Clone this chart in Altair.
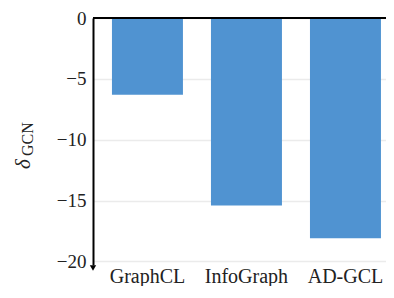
import altair as alt
import pandas as pd

methods = ["GraphCL", "InfoGraph", "AD-GCL"]
delta_gcn = [-6.3, -15.4, -18.1]
y_ticks = [0, -5, -10, -15, -20]
y_min = -20.3

df = pd.DataFrame({"method": methods, "delta": delta_gcn})

FONT = "Liberation Serif, DejaVu Serif, serif"

y_axis = alt.Axis(title=None, values=y_ticks, grid=True, gridColor="#ebebeb",
                  gridWidth=1.5, domainColor="black", domainWidth=2,
                  ticks=False, labelFont=FONT, labelFontSize=19,
                  labelColor="#222", labelPadding=7,
                  labelExpr="replace(datum.label, '-', '\u2212')")
y_scale = alt.Scale(domain=[y_min, 0], nice=False, zero=False)

base = alt.Chart(df)

bars = base.mark_bar(color="#4A90D0", opacity=0.97).encode(
    x=alt.X("method:N", sort=methods,
            scale=alt.Scale(paddingInner=0.283, paddingOuter=0.1212, align=0.79),
            axis=alt.Axis(title=None, labelAngle=0, domain=False, ticks=False,
                          labelFont=FONT, labelFontSize=20, labelColor="#222",
                          labelPadding=1)),
    y=alt.Y("delta:Q", scale=y_scale, axis=y_axis),
)

top_rule = alt.Chart(pd.DataFrame({"v": [0]})).mark_rule(color="black", strokeWidth=2).encode(
    y=alt.Y("v:Q", scale=y_scale, axis=y_axis)
)

arrow = alt.Chart(pd.DataFrame({"v": [y_min]})).mark_point(
    shape="triangle-down", filled=True, color="black", size=40, opacity=1, yOffset=3
).encode(x=alt.value(0), y=alt.Y("v:Q", scale=y_scale, axis=y_axis))

title_delta = alt.Chart(pd.DataFrame({"t": ["δ"]})).mark_text(
    font=FONT, fontSize=21, fontStyle="italic", angle=270, align="left",
    baseline="alphabetic", color="#222"
).encode(text="t:N", x=alt.value(-63), y=alt.value(151))

title_sub = alt.Chart(pd.DataFrame({"t": ["GCN"]})).mark_text(
    font=FONT, fontSize=16, angle=270, align="left", baseline="alphabetic", color="#222"
).encode(text="t:N", x=alt.value(-60), y=alt.value(138))

chart = alt.layer(bars, top_rule, arrow, title_delta, title_sub).properties(
    width=293, height=247,
    padding={"left": 85, "top": 10, "right": 0, "bottom": 21},
    autosize=alt.AutoSizeParams(type="none"),
).configure_view(stroke=None).configure_axis(labelFont=FONT)

chart.save("out.html", embed_options={"renderer": "svg", "actions": False})
